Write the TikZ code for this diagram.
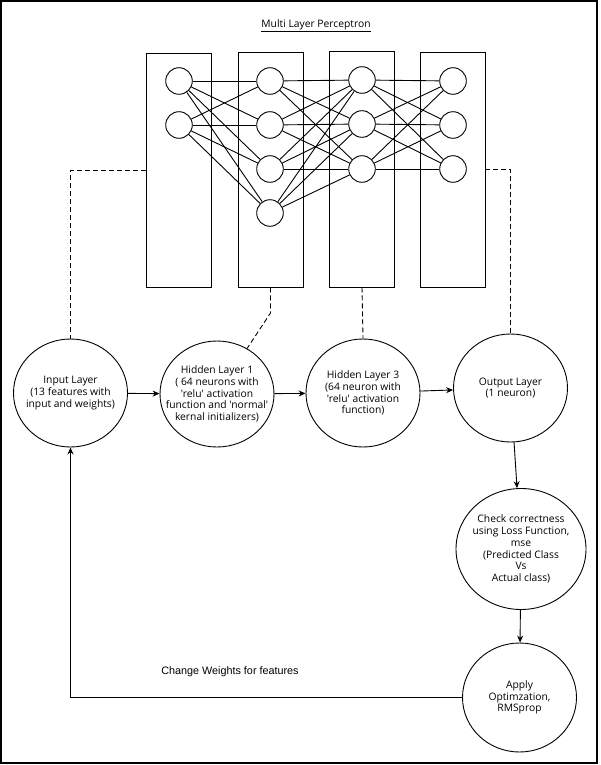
\documentclass[tikz,border=0pt]{standalone}
\usepackage{fontspec}
\setmainfont{Open Sans}[Ligatures=TeXOff]
\newfontfamily\arialfont{Liberation Sans}
\usetikzlibrary{shapes.geometric,arrows.meta}
\begin{document}
\begin{tikzpicture}[x=1pt,y=-1pt,
  every path/.style={line width=0.9pt},
  neuron/.style={circle,draw,fill=white,minimum size=26.6pt,inner sep=0pt},
  layerbox/.style={rectangle,draw,minimum width=65pt,inner sep=0pt},
  bigell/.style={ellipse,draw,inner sep=0pt},
  intext/.style={align=center,inner sep=0pt,font=\fontsize{10.3}{11.8}\selectfont},
  dashline/.style={dash pattern=on 5pt off 3pt},
  arr/.style={-{Stealth[length=7pt,width=6pt]}}]
\useasboundingbox (0,0) rectangle (600,765);
\draw[line width=1.2pt] (1,1) rectangle (597,763);
% title
\node (title) at (316,26) {\fontsize{10.3}{12}\selectfont\underline{Multi Layer Perceptron}};
% layer boxes
\node[layerbox,minimum height=234pt] (R1) at (178.5,170) {};
\node[layerbox,minimum height=235pt] (R2) at (270.5,169.5) {};
\node[layerbox,minimum height=236pt] (R3) at (362,169) {};
\node[layerbox,minimum height=235pt] (R4) at (452.5,169.5) {};
% neurons
\node[neuron] (a1) at (179,81) {};
\node[neuron] (a2) at (179,125) {};
\node[neuron] (b1) at (270,81) {};
\node[neuron] (b2) at (270,125) {};
\node[neuron] (b3) at (270,169) {};
\node[neuron] (b4) at (270,213) {};
\node[neuron] (c1) at (362,80) {};
\node[neuron] (c2) at (362,124) {};
\node[neuron] (c3) at (362,169) {};
\node[neuron] (d1) at (453,81) {};
\node[neuron] (d2) at (453,125) {};
\node[neuron] (d3) at (453,169) {};
\foreach \s in {a1,a2}{\foreach \t in {b1,b2,b3,b4}{\draw (\s) -- (\t);}}
\foreach \s in {b1,b2,b3,b4}{\foreach \t in {c1,c2,c3}{\draw (\s) -- (\t);}}
\foreach \s in {c1,c2,c3}{\foreach \t in {d1,d2,d3}{\draw (\s) -- (\t);}}
% big nodes
\node[bigell,minimum width=114pt,minimum height=108pt,
  label={[intext]center:{Input Layer\\(13 features with\\input and weights)}}] (inL) at (70.5,393) {};
\node[bigell,minimum width=114pt,minimum height=106pt,
  label={[intext]center:{Hidden Layer 1\\( 64 neurons with\\'relu' activation\\function and 'normal'\\kernal initializers)}}] (hid1) at (217,394) {};
\node[bigell,minimum width=114pt,minimum height=108pt,
  label={[intext]center:{Hidden Layer 3\\(64 neuron with\\'relu' activation\\function)}}] (hid3) at (363,393) {};
\node[bigell,minimum width=114pt,minimum height=108pt,
  label={[intext]center:{Output Layer\\(1 neuron)}}] (outL) at (510.5,388) {};
\node[bigell,minimum width=130pt,minimum height=121pt,
  label={[intext]center:{Check correctness\\using Loss Function,\\mse\\(Predicted Class\\Vs\\Actual class)}}] (check) at (521,549) {};
\node[bigell,minimum width=114pt,minimum height=109pt,
  label={[intext]center:{Apply\\Optimzation,\\RMSprop}}] (apply) at (519.5,697.5) {};
% dashed links
\coordinate (bend2) at (270.5,313);
\draw[dashline] (R1.west) -| (inL.north);
\draw[dashline] (R2.south) -- (bend2) -- (hid1);
\draw[dashline] (R3.south) -- (hid3.north);
\draw[dashline] (R4.east) -| (outL.north);
% flow arrows
\draw[arr] (inL) -- (hid1);
\draw[arr] (hid1) -- (hid3);
\draw[arr] (hid3) -- (outL);
\draw[arr] (outL) -- (check);
\draw[arr] (check) -- (apply);
\draw[arr] (apply.west) -| (inL.south);
\node[font=\arialfont\fontsize{10.8}{13}\selectfont] (chg) at (230,672) {Change Weights for features};
\end{tikzpicture}
\end{document}
